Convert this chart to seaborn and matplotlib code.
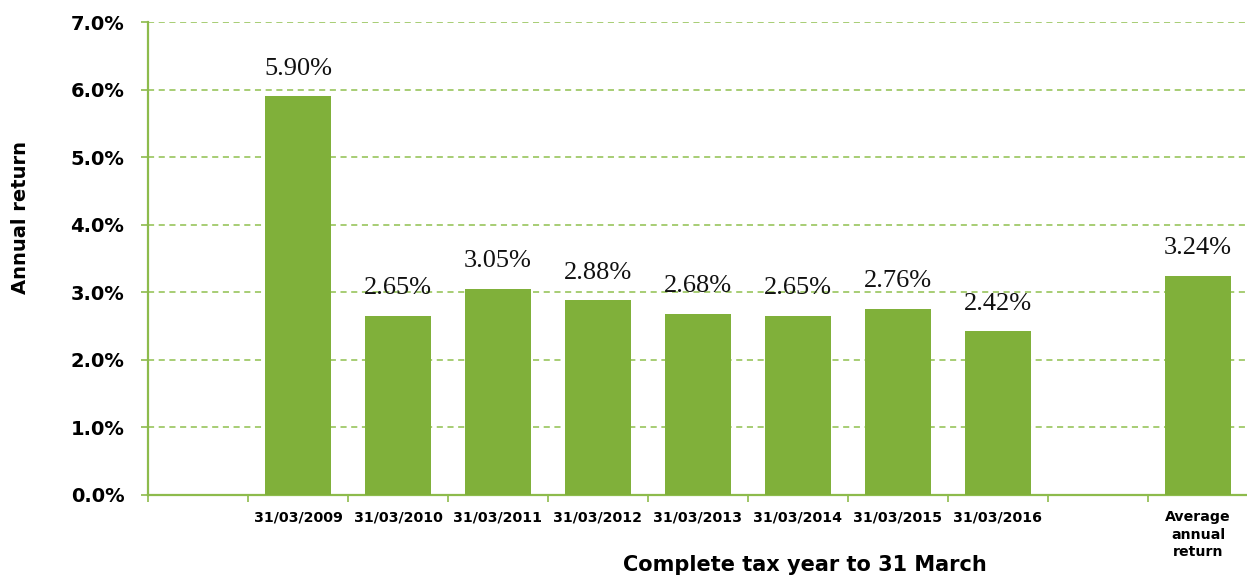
import matplotlib
matplotlib.use("Agg")
import matplotlib.pyplot as plt
import seaborn as sns
import pandas as pd
from matplotlib.ticker import FuncFormatter, FixedLocator

categories = ["31/03/2009", "31/03/2010", "31/03/2011", "31/03/2012",
              "31/03/2013", "31/03/2014", "31/03/2015", "31/03/2016",
              "Average\nannual\nreturn"]
values = [5.90, 2.65, 3.05, 2.88, 2.68, 2.65, 2.76, 2.42, 3.24]
order = [" "] + categories[:8] + ["  "] + categories[8:]
y_ticks = [0, 1, 2, 3, 4, 5, 6, 7]

bar_color = "#80B03A"
grid_color = "#8FC04E"
axis_color = "#8DBB4C"

sns.set_theme(style="white")
plt.rcParams['font.family'] = ['DejaVu Sans']
plt.rcParams['text.color'] = 'black'
plt.rcParams['xtick.color'] = 'black'
plt.rcParams['ytick.color'] = 'black'
plt.rcParams['axes.labelcolor'] = 'black'

df = pd.DataFrame({"cat": categories, "val": values})

fig = plt.figure(figsize=(12.47, 5.77), dpi=100)
ax = fig.add_axes([148/1247, 1 - 495/577, 1100/1247, 473/577])

sns.barplot(data=df, x="cat", y="val", order=order, color=bar_color,
            saturation=1, width=0.667, ax=ax, zorder=3, linewidth=0)

ax.set_ylim(0, 7)
ax.set_xlim(-0.5, len(order) - 0.5)
ax.yaxis.set_major_locator(FixedLocator(y_ticks))
ax.yaxis.set_major_formatter(FuncFormatter(lambda v, p: f"{v:.1f}%"))
ax.grid(axis="y", linestyle=(0, (4, 3)), color=grid_color, linewidth=1.1, zorder=0)
ax.set_axisbelow(True)

for s in ["top", "right"]:
    ax.spines[s].set_visible(False)
for s in ["left", "bottom"]:
    ax.spines[s].set_color(axis_color)
    ax.spines[s].set_linewidth(1.6)

ax.tick_params(axis="y", which="major", left=True, length=5, width=1.2,
               color=axis_color, labelcolor="black", labelsize=14, pad=12)
for t in ax.get_yticklabels():
    t.set_fontweight("bold")

ax.set_xticks(range(len(order)))
ax.set_xticklabels(order, fontsize=10.2, fontweight="bold", linespacing=1.3)
ax.tick_params(axis="x", which="major", bottom=False, pad=5, labelcolor="black")
ax.set_xticks([i - 0.5 for i in range(len(order) + 1)], minor=True)
ax.tick_params(axis="x", which="minor", bottom=True, length=5, width=1.2,
               color=axis_color)

for c in ax.containers:
    labels = [f"{v:.2f}%" if h.get_height() == h.get_height() else ""
              for v, h in zip(c.datavalues, c.patches)]
    ax.bar_label(c, labels=labels, padding=12, fontsize=19,
                 family="Liberation Serif", color="#111111")

ax.set_xlabel("Complete tax year to 31 March", fontsize=15, fontweight="bold")
ax.xaxis.set_label_coords(0.597, -0.148)
ax.xaxis.label.set_va("center")
ax.set_ylabel("Annual return", fontsize=14, fontweight="bold")
ax.yaxis.set_label_coords(-0.116, 0.586)
ax.yaxis.label.set_va("center")

fig.savefig("out.png", dpi=100)
